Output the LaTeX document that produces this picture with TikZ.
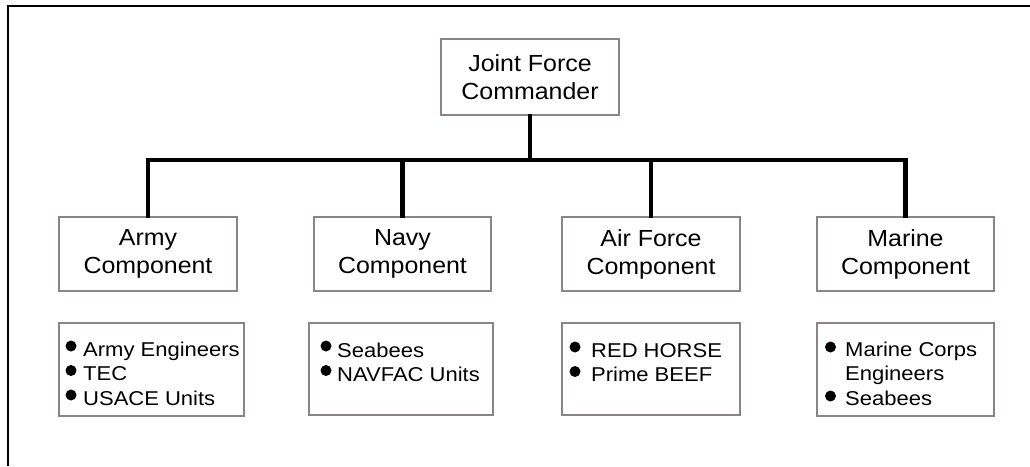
\documentclass[tikz,border=0pt]{standalone}
\usepackage{fontspec}
\setmainfont{Liberation Sans}[FakeStretch=1.07]
\newfontfamily\listfont{Liberation Sans}[FakeStretch=1.10]
\definecolor{boxgray}{HTML}{8C8484}
\tikzset{
  unitbox/.style={draw=boxgray, line width=1.6pt, fill=white, inner sep=0pt, align=center,
    font={\fontsize{23.3}{28}\selectfont}},
  listbox/.style={draw=boxgray, line width=1.6pt, fill=white, inner sep=0pt},
  listtext/.style={inner sep=0pt, align=left, anchor=base west,
    font={\listfont\fontsize{20}{24.5}\selectfont}},
  conn/.style={line width=4.3pt, line cap=rect, line join=miter},
  frame/.style={line width=2.4pt},
  dot/.style={fill=black}
}
\begin{document}
\begin{tikzpicture}[x=1pt,y=-1pt]
\useasboundingbox (0,0) rectangle (1030,466);
\fill[white] (0,0) rectangle (1030,466);
% frame (top and left only)
\draw[frame] (7.8,466) -- (7.8,5.7) -- (1030,5.7);

% top box
\node[unitbox, minimum width=178pt, minimum height=76pt] (jfc) at (530,77) {Joint Force\\Commander};

% component boxes
\node[unitbox, minimum width=178pt, minimum height=74pt] (army) at (148,254) {Army\\Component};
\node[unitbox, minimum width=177pt, minimum height=74pt] (navy) at (402.5,254) {Navy\\Component};
\node[unitbox, minimum width=178pt, minimum height=74pt] (air) at (651,254) {Air Force\\Component};
\node[unitbox, minimum width=177pt, minimum height=74pt] (marine) at (905.5,254) {Marine\\Component};

% connectors
\coordinate (barL) at (150,160);
\coordinate (barR) at (906,160);
\draw[conn] (jfc.south) -- (jfc.south |- barL);
\draw[conn] (barL) -- (barR);
\draw[conn] (army.north) -- (army.north |- barL);
\draw[conn] (navy.north) -- (navy.north |- barL);
\draw[conn] (air.north) -- (air.north |- barL);
\draw[conn] (marine.north) -- (marine.north |- barL);

% list boxes
\node[listbox, minimum width=185pt, minimum height=93pt] (armyl) at (151.5,369.5) {};
\node[listbox, minimum width=184pt, minimum height=92pt] (navyl) at (401,369) {};
\node[listbox, minimum width=178pt, minimum height=92pt] (airl) at (651,369) {};
\node[listbox, minimum width=177pt, minimum height=93pt] (marinel) at (905.5,369.5) {};

% list texts (anchored at the baseline of the last line)
\node[listtext] (armyt) at (83,405) {Army Engineers\\TEC\\USACE Units};
\fill[dot] (71,346) circle (5.5);
\fill[dot] (71,370.5) circle (5.5);
\fill[dot] (71,395) circle (5.5);

\node[listtext] (navyt) at (337,381.5) {Seabees\\NAVFAC Units};
\fill[dot] (326,346) circle (5.5);
\fill[dot] (326,370.5) circle (5.5);

\node[listtext] (airt) at (591,381.5) {RED HORSE\\Prime BEEF};
\fill[dot] (575,347) circle (5.5);
\fill[dot] (575,371.5) circle (5.5);

\node[listtext] (marinet) at (845,405) {Marine Corps\\Engineers\\Seabees};
\fill[dot] (830.5,347) circle (5.5);
\fill[dot] (830.5,396) circle (5.5);
\end{tikzpicture}
\end{document}
